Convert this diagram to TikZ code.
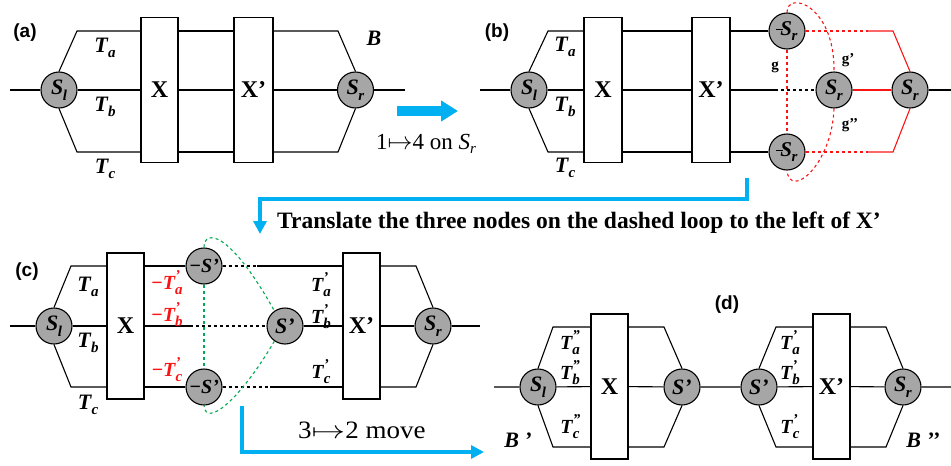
\documentclass[tikz,border=0pt]{standalone}
\usepackage{fontspec}
\setmainfont{Liberation Serif}
\newfontfamily\labfont{Liberation Sans}
\usetikzlibrary{arrows.meta}
\definecolor{cblue}{RGB}{0,176,240}
\definecolor{cred}{RGB}{250,20,20}
\definecolor{cgreen}{RGB}{0,170,80}
\definecolor{cgray}{RGB}{166,166,166}
\newcommand{\Ml}[3]{\textbf{\textit{#1}}\kern-0.5pt\makebox[0pt][l]{\raisebox{0.45em}{\fontsize{15}{15}\selectfont\bfseries\itshape #3}}\raisebox{-0.25em}{\fontsize{15}{15}\selectfont\bfseries\itshape #2}}
\begin{document}
\begin{tikzpicture}[x=1pt,y=-1pt,
  wire/.style={line width=1.1pt, black},
  circ/.style={circle, draw, line width=1.1pt, fill=cgray, minimum size=36pt, inner sep=0pt, font=\fontsize{22}{22}\selectfont},
  gate/.style={draw, line width=1.1pt, fill=white, minimum width=37pt, minimum height=145pt, inner sep=0pt, font=\fontsize{24}{24}\selectfont\bfseries},
  lab/.style={font=\fontsize{22}{22}\selectfont, inner sep=0pt},
  slab/.style={font=\fontsize{20}{20}\selectfont, inner sep=0pt},
  plab/.style={font=\labfont\fontsize{19}{19}\selectfont\bfseries, inner sep=0pt},
  glab/.style={font=\fontsize{15}{15}\selectfont\bfseries, inner sep=0pt},
  rdash/.style={cred, line width=1.1pt, dash pattern=on 3pt off 3pt},
  kdash/.style={black, line width=1.1pt, dash pattern=on 3pt off 3pt},
  gdash/.style={cgreen, line width=1.1pt, dash pattern=on 3pt off 3pt},
  rwire/.style={cred, line width=1.1pt},
  bigarrow/.style={cblue, line width=10pt, -{Triangle[length=17pt,width=20pt]}},
  elbow/.style={cblue, line width=4.5pt, line join=miter, -{Triangle[length=13pt,width=13pt]}},
  capt/.style={font=\fontsize{23}{23}\selectfont, inner sep=0pt}
]
\useasboundingbox (0,0) rectangle (951,466);

% ---------------- (a) ----------------
\node[plab] (pa) at (25,33) {(a)};
\coordinate (aL) at (10,90); \coordinate (aR) at (405,90);
\coordinate (aTL) at (77,31); \coordinate (aBL) at (77,152);
\coordinate (aTR) at (338,31); \coordinate (aBR) at (338,152);
\node[circ] (aSl) at (59,90) {\Ml{S}{l}{}};
\node[gate] (aX) at (159.5,90) {X};
\node[gate, minimum width=39pt] (aXp) at (253.5,90) {X’};
\node[circ] (aSr) at (355.5,90) {\Ml{S}{r}{}};
\draw[wire] (aL) -- (aSl) -- (aX);
\draw[wire] (aSl.north) -- (aTL) -- (aTL -| aX.west);
\draw[wire] (aSl.south) -- (aBL) -- (aBL -| aX.west);
\draw[wire] (aTL -| aX.east) -- (aTL -| aXp.west);
\draw[wire] (aX) -- (aXp);
\draw[wire] (aBL -| aX.east) -- (aBL -| aXp.west);
\draw[wire] (aXp) -- (aSr) -- (aR);
\draw[wire] (aTR -| aXp.east) -- (aTR) -- (aSr.north);
\draw[wire] (aBR -| aXp.east) -- (aBR) -- (aSr.south);
\node[lab] (aTa) at (105,48) {\Ml{T}{a}{}};
\node[lab] (aTb) at (105,107) {\Ml{T}{b}{}};
\node[lab] (aTc) at (105,169) {\Ml{T}{c}{}};
\node[lab] (aB) at (374,38) {\textbf{\textit{B}}};

% arrow (a)->(b)
\coordinate (ar1s) at (397,111); \coordinate (ar1e) at (458,111);
\draw[bigarrow] (ar1s) -- (ar1e);
\node[capt, anchor=base west] (t14) at (376,149) {1$\mapsto$4 on \textit{S}\raisebox{-0.2em}{\fontsize{15}{15}\selectfont\itshape r}};

% ---------------- (b) ----------------
\node[plab] (pb) at (497,33) {(b)};
\coordinate (bL) at (480,90); \coordinate (bR) at (951,90);
\coordinate (bTL) at (548,31); \coordinate (bBL) at (548,152);
\coordinate (bmid) at (775,90);
\coordinate (bRd1) at (868,31); \coordinate (bRc1) at (893,31);
\coordinate (bRd2) at (868,152); \coordinate (bRc2) at (893,152);
\node[circ] (bSl) at (529,90) {\Ml{S}{l}{}};
\node[gate, minimum width=38pt] (bX) at (603,90) {X};
\node[gate, minimum width=38pt] (bXp) at (711,90) {X’};
\node[circ, font=\fontsize{21}{21}\selectfont] (bS1) at (787,31) {\rule[0.25em]{6pt}{1.2pt}\kern-2pt\Ml{S}{r}{}};
\node[circ, font=\fontsize{21}{21}\selectfont] (bS2) at (787,152) {\rule[0.25em]{6pt}{1.2pt}\kern-2pt\Ml{S}{r}{}};
\node[circ] (bSm) at (834,90) {\Ml{S}{r}{}};
\node[circ] (bSR) at (910,90) {\Ml{S}{r}{}};
\draw[wire] (bL) -- (bSl) -- (bX);
\draw[wire] (bSl.north) -- (bTL) -- (bTL -| bX.west);
\draw[wire] (bSl.south) -- (bBL) -- (bBL -| bX.west);
\draw[wire] (bTL -| bX.east) -- (bTL -| bXp.west);
\draw[wire] (bX) -- (bXp);
\draw[wire] (bBL -| bX.east) -- (bBL -| bXp.west);
\draw[wire] (bTL -| bXp.east) -- (bS1);
\draw[wire] (bBL -| bXp.east) -- (bS2);
\draw[wire] (bXp) -- (bmid);
\draw[kdash] (bmid) -- (bSm);
\draw[rdash] (bS1) -- (bRd1);
\draw[rdash] (bS2) -- (bRd2);
\draw[rwire] (bRd1) -- (bRc1) -- (bSR.north);
\draw[rwire] (bRd2) -- (bRc2) -- (bSR.south);
\draw[rwire] (bSm) -- (bSR);
\draw[wire] (bSR) -- (bR);
\draw[rdash] (bS1) -- (bS2);
\draw[rdash] (bS1.north) .. controls (787,-10) and (835,5) .. (bSm.north);
\draw[rdash] (bSm.south) .. controls (832,165) and (790,200) .. (bS2.south);
\node[lab] (bTa) at (565,47) {\Ml{T}{a}{}};
\node[lab] (bTb) at (565,107) {\Ml{T}{b}{}};
\node[lab] (bTc) at (565,168) {\Ml{T}{c}{}};
\node[glab] (g1) at (775,67) {g};
\node[glab] (g2) at (848,60) {g’};
\node[glab] (g3) at (850,125) {g’’};

% translate arrow
\coordinate (tr1) at (747,178); \coordinate (tr2) at (747,199);
\coordinate (tr3) at (260,199); \coordinate (tr4) at (260,234);
\draw[elbow] (tr1) -- (tr2) -- (tr3) -- (tr4);
\node[capt, anchor=base west, font=\fontsize{23.5}{23.5}\selectfont\bfseries] (ttr) at (277,228) {Translate the three nodes on the dashed loop to the left of X’};

% ---------------- (c) ----------------
\node[plab] (pc) at (27,272) {(c)};
\coordinate (cL) at (10,326); \coordinate (cR) at (480,326);
\coordinate (cTL) at (71,266); \coordinate (cBL) at (71,387);
\coordinate (cTR) at (416,266); \coordinate (cBR) at (416,387);
\coordinate (c1d) at (257,266); \coordinate (c2d) at (190,326); \coordinate (c3d) at (270,387);
\node[circ] (cSl) at (54,326) {\Ml{S}{l}{}};
\node[gate, minimum height=146pt] (cX) at (125.5,326) {X};
\node[gate, minimum height=146pt] (cXp) at (361.5,326) {X’};
\node[circ, font=\fontsize{20}{20}\selectfont] (cm1) at (204,266) {\textbf{\textit{−S’}}};
\node[circ, font=\fontsize{20}{20}\selectfont] (cm2) at (204,387) {\textbf{\textit{−S’}}};
\node[circ] (cS) at (285,326) {\textbf{\textit{S’}}};
\node[circ] (cSr) at (433,326) {\Ml{S}{r}{}};
\draw[wire] (cL) -- (cSl) -- (cX);
\draw[wire] (cSl.north) -- (cTL) -- (cTL -| cX.west);
\draw[wire] (cSl.south) -- (cBL) -- (cBL -| cX.west);
\draw[wire] (cTL -| cX.east) -- (cm1);
\draw[kdash] (cm1) -- (c1d);
\draw[wire] (c1d) -- (c1d -| cXp.west);
\draw[wire] (cX) -- (c2d);
\draw[kdash] (c2d) -- (cS);
\draw[wire] (cS) -- (cXp);
\draw[wire] (cBL -| cX.east) -- (cm2);
\draw[kdash] (cm2) -- (c3d);
\draw[wire] (c3d) -- (c3d -| cXp.west);
\draw[wire] (cTR -| cXp.east) -- (cTR) -- (cSr.north);
\draw[wire] (cBR -| cXp.east) -- (cBR) -- (cSr.south);
\draw[wire] (cXp) -- (cSr) -- (cR);
\draw[gdash] (cm1) -- (cm2);
\draw[gdash] (cm1.north) .. controls (204,230) and (228,228) .. (cS.125);
\draw[gdash] (cS.235) .. controls (240,400) and (206,428) .. (cm2.south);
\node[lab] (cTa) at (88,287) {\Ml{T}{a}{}};
\node[lab] (cTb) at (88,343) {\Ml{T}{b}{}};
\node[lab] (cTc) at (88,405) {\Ml{T}{c}{}};
\node[slab, text=cred] (cRa) at (167,283) {\textbf{−}\Ml{T}{a}{’}};
\node[slab, text=cred] (cRb) at (167,315) {\textbf{−}\Ml{T}{b}{’}};
\node[slab, text=cred] (cRc) at (167,370) {\textbf{−}\Ml{T}{c}{’}};
\node[slab] (cPa) at (321,285) {\Ml{T}{a}{’}};
\node[slab] (cPb) at (321,317) {\Ml{T}{b}{’}};
\node[slab] (cPc) at (321,372) {\Ml{T}{c}{’}};

% 3->2 arrow
\coordinate (mv1) at (242,406); \coordinate (mv2) at (242,452); \coordinate (mv3) at (484,452);
\draw[elbow] (mv1) -- (mv2) -- (mv3);
\node[capt, anchor=base west, font=\fontsize{25}{25}\selectfont] (t32) at (298,438) {\scalebox{1.08}[1]{3\scalebox{1.25}[1]{$\mapsto$}2 move}};

% ---------------- (d) ----------------
\node[plab] (pd) at (727,305) {(d)};
\coordinate (dL) at (494,387); \coordinate (dR) at (951,387);
\coordinate (dTL) at (553,327); \coordinate (dBL) at (553,447);
\coordinate (dTM) at (664,327); \coordinate (dBM) at (664,447);
\coordinate (dTN) at (776,327); \coordinate (dBN) at (776,447);
\coordinate (dTR) at (886,327); \coordinate (dBR) at (886,447);
\node[circ] (dSl) at (538,387) {\Ml{S}{l}{}};
\node[gate] (dX) at (609.5,386.5) {X};
\node[circ] (dS1) at (682,387) {\textbf{\textit{S’}}};
\node[circ] (dS2) at (759,387) {\textbf{\textit{S’}}};
\node[gate] (dXp) at (831.5,386.5) {X’};
\node[circ] (dSr) at (903,387) {\Ml{S}{r}{}};
\draw[wire] (dL) -- (dSl) -- (dX);
\draw[wire] (dSl.north) -- (dTL) -- (dTL -| dX.west);
\draw[wire] (dSl.south) -- (dBL) -- (dBL -| dX.west);
\draw[wire] (dTM -| dX.east) -- (dTM) -- (dS1.north);
\draw[wire] (dBM -| dX.east) -- (dBM) -- (dS1.south);
\draw[wire] (dX) -- (dS1) -- (dS2) -- (dXp);
\draw[wire] (dS2.north) -- (dTN) -- (dTN -| dXp.west);
\draw[wire] (dS2.south) -- (dBN) -- (dBN -| dXp.west);
\draw[wire] (dTR -| dXp.east) -- (dTR) -- (dSr.north);
\draw[wire] (dBR -| dXp.east) -- (dBR) -- (dSr.south);
\draw[wire] (dXp) -- (dSr) -- (dR);
\node[slab] (dTa) at (570,343) {\Ml{T}{a}{”}};
\node[slab] (dTb) at (570,373) {\Ml{T}{b}{”}};
\node[slab] (dTc) at (570,427) {\Ml{T}{c}{”}};
\node[slab] (dPa) at (790,343) {\Ml{T}{a}{’}};
\node[slab] (dPb) at (790,373) {\Ml{T}{b}{’}};
\node[slab] (dPc) at (790,427) {\Ml{T}{c}{’}};
\node[lab] (dB1) at (518,440) {\textbf{\textit{B ’}}};
\node[lab] (dB2) at (923,440) {\textbf{\textit{B ’’}}};
\end{tikzpicture}
\end{document}
